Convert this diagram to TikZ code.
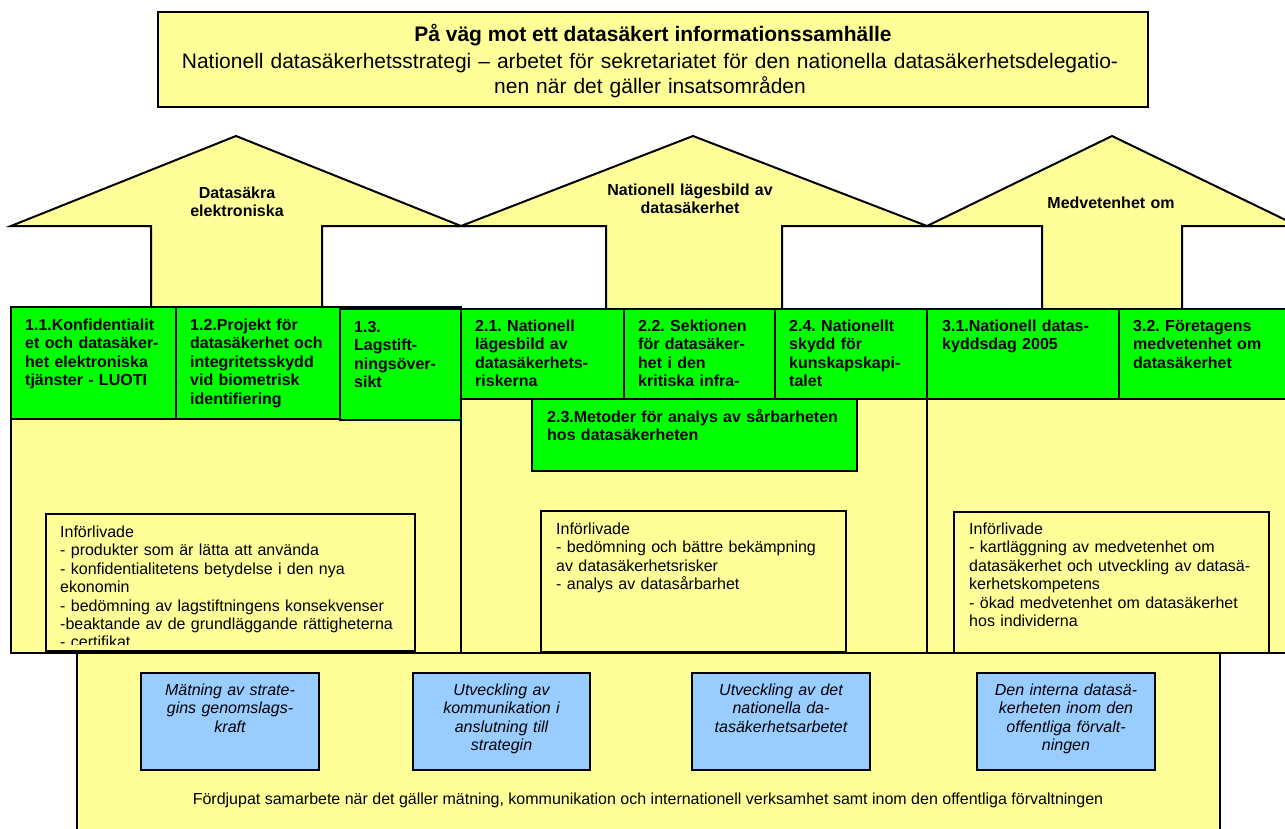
\documentclass[tikz,border=0pt]{standalone}
\usepackage{fontspec}
\setmainfont{Liberation Sans}
\frenchspacing
\definecolor{pyellow}{HTML}{FFFF99}
\definecolor{pgreen}{HTML}{00FF00}
\definecolor{pblue}{HTML}{99CCFF}
\tikzset{
 frame/.style={draw=black, line width=2pt, line join=miter},
 ybox/.style={frame, fill=pyellow},
 gbox/.style={frame, fill=pgreen},
 bbox/.style={frame, fill=pblue},
 gtxt/.style={anchor=base west, inner sep=0pt, text width=300pt, align=left, font=\fontsize{16}{18.4}\selectfont\bfseries},
 ntxt/.style={anchor=base west, inner sep=0pt, text width=420pt, align=left, font=\fontsize{16}{18.4}\selectfont},
 btxt/.style={anchor=base, inner sep=0pt, text width=200pt, align=center, font=\fontsize{16}{18.4}\selectfont\itshape},
 atxt/.style={anchor=base, inner sep=0pt, text width=260pt, align=center, font=\fontsize{16}{18.4}\selectfont\bfseries},
}
\begin{document}
\begin{tikzpicture}[x=1pt,y=-1pt]
\useasboundingbox (0,0) rectangle (1285,828);
\clip (0,0) rectangle (1285,828);
% column panels
\draw[ybox] (11,307) rectangle (461,653);
\draw[ybox] (461,309) rectangle (927,653);
\draw[ybox] (927,309) rectangle (1295,653);
% bottom panel
\draw[ybox] (77,653) rectangle (1220,840);
% arrows
\draw[ybox] (151,307) -- (151,226) -- (11,226) -- (236,136) -- (461,226) -- (322,226) -- (322,307);
\draw[ybox] (606,309) -- (606,226) -- (461,226) -- (693,136) -- (927,226) -- (782,226) -- (782,309);
\draw[ybox] (1042,309) -- (1042,226) -- (927,226) -- (1112,136) -- (1298,226) -- (1182,226) -- (1182,309);
\node[atxt] (a1) at (237,198.5) {Datasäkra\\elektroniska};
\node[atxt] (a2) at (690,195.5) {Nationell lägesbild av\\datasäkerhet};
\node[atxt] (a3) at (1111,208.5) {Medvetenhet om};
% green boxes
\draw[gbox] (11,307) rectangle (176,419);
\draw[gbox] (176,307) rectangle (340,419);
\draw[gbox] (340,309) rectangle (461,420);
\draw[gbox] (461,309) rectangle (624,399);
\draw[gbox] (624,309) rectangle (775,399);
\draw[gbox] (775,309) rectangle (927,399);
\draw[gbox] (532,399) rectangle (857,471);
\draw[gbox] (927,309) rectangle (1119,399);
\draw[gbox] (1119,309) rectangle (1295,399);
\node[gtxt] (g11) at (25,330.5) {1.1.Konfidentialit\\et och datasäker-\\het elektroniska\\tjänster - LUOTI};
\node[gtxt] (g12) at (190,330.5) {1.2.Projekt för\\datasäkerhet och\\integritetsskydd\\vid biometrisk\\identifiering};
\node[gtxt] (g13) at (354,332.5) {1.3.\\Lagstift-\\ningsöver-\\sikt};
\node[gtxt] (g21) at (475,331.5) {2.1. Nationell\\lägesbild av\\datasäkerhets-\\riskerna};
\node[gtxt] (g22) at (638,331.5) {2.2. Sektionen\\för datasäker-\\het i den\\kritiska infra-};
\node[gtxt] (g24) at (789,331.5) {2.4. Nationellt\\skydd för\\kunskapskapi-\\talet};
\node[gtxt] (g23) at (547,422.5) {2.3.Metoder för analys av sårbarheten\\hos datasäkerheten};
\node[gtxt] (g31) at (942,331.5) {3.1.Nationell datas-\\kyddsdag 2005};
\node[gtxt] (g32) at (1133,331.5) {3.2. Företagens\\medvetenhet om\\datasäkerhet};
% införlivade boxes
\draw[ybox] (46,514) rectangle (415,651);
\draw[ybox] (541,511) rectangle (846,652);
\draw[ybox] (954,512) rectangle (1269,653);
\begin{scope}
\clip (46,514) rectangle (415,644);
\node[ntxt] (i1) at (60,537.5) {Införlivade\\- produkter som är lätta att använda\\- konfidentialitetens betydelse i den nya\\ekonomin\\- bedömning av lagstiftningens konsekvenser\\-beaktande av de grundläggande rättigheterna\\- certifikat};
\end{scope}
\node[ntxt] (i2) at (556,534.5) {Införlivade\\- bedömning och bättre bekämpning\\av datasäkerhetsrisker\\- analys av datasårbarhet};
\node[ntxt] (i3) at (969,534.5) {Införlivade\\- kartläggning av medvetenhet om\\datasäkerhet och utveckling av datasä-\\kerhetskompetens\\- ökad medvetenhet om datasäkerhet\\hos individerna};
% blue boxes
\draw[bbox] (141,673) rectangle (319,770);
\draw[bbox] (413,673) rectangle (590,770);
\draw[bbox] (692,673) rectangle (870,770);
\draw[bbox] (977,673) rectangle (1155,770);
\node[btxt] (b1) at (230,695.5) {Mätning av strate-\\gins genomslags-\\kraft};
\node[btxt] (b2) at (501.5,695.5) {Utveckling av\\kommunikation i\\anslutning till\\strategin};
\node[btxt] (b3) at (781,695.5) {Utveckling av det\\nationella da-\\tasäkerhetsarbetet};
\node[btxt] (b4) at (1066,695.5) {Den interna datasä-\\kerheten inom den\\offentliga förvalt-\\ningen};
\node[anchor=base, inner sep=0pt, font=\fontsize{16}{18.4}\selectfont] (foot) at (648,804.5) {Fördjupat samarbete när det gäller mätning, kommunikation och internationell verksamhet samt inom den offentliga förvaltningen};
% top box
\draw[ybox] (158,12) rectangle (1148,107);
\node[anchor=base, inner sep=0pt, font=\fontsize{21}{25}\selectfont\bfseries] (title) at (653,41.5) {På väg mot ett datasäkert informationssamhälle};
\node[anchor=base, inner sep=0pt, text width=1000pt, align=center, font=\fontsize{21}{24.5}\selectfont] (sub) at (650,68.5) {Nationell datasäkerhetsstrategi – arbetet för sekretariatet för den nationella datasäkerhetsdelegatio-\\nen när det gäller insatsområden};
\end{tikzpicture}
\end{document}
